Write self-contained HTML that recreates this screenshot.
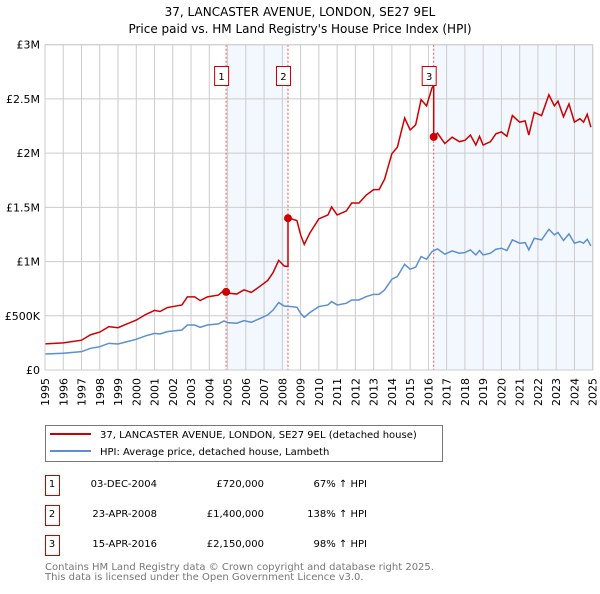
<!DOCTYPE html>
<html><head><meta charset="utf-8"><style>
body{margin:0;background:#fff;font-family:"DejaVu Sans","Liberation Sans",sans-serif;}
svg text{font-family:"DejaVu Sans","Liberation Sans",sans-serif;}
</style></head><body>
<svg id="c" width="600" height="590" viewBox="0 0 600 590" xmlns="http://www.w3.org/2000/svg">
<text x="300" y="16" text-anchor="middle" font-size="12">37, LANCASTER AVENUE, LONDON, SE27 9EL</text>
<text x="300" y="33" text-anchor="middle" font-size="12">Price paid vs. HM Land Registry's House Price Index (HPI)</text>
<g id="plot"></g>
<g>
<rect x="45.5" y="425.5" width="397" height="36" fill="#fff" stroke="#777"/>
<line x1="50" y1="434" x2="91" y2="434" stroke="#cc0000" stroke-width="2"/>
<text x="100" y="438" font-size="10">37, LANCASTER AVENUE, LONDON, SE27 9EL (detached house)</text>
<line x1="50" y1="451" x2="91" y2="451" stroke="#5b8fd0" stroke-width="2"/>
<text x="100" y="455" font-size="10">HPI: Average price, detached house, Lambeth</text>
</g>
<g id="table" font-size="10"></g>
<text x="45" y="570" font-size="10" fill="#777">Contains HM Land Registry data © Crown copyright and database right 2025.</text>
<text x="45" y="580" font-size="10" fill="#777">This data is licensed under the Open Government Licence v3.0.</text>
</svg>
<script>
const hpiDates=[1995.0,1996,1997,1997.5,1998,1998.5,1999,1999.5,2000,2000.5,2001,2001.3,2001.7,2002,2002.5,2002.8,2003.2,2003.5,2003.9,2004.5,2004.8,2005,2005.5,2005.9,2006.3,2006.8,2007.2,2007.5,2007.8,2008.1,2008.5,2008.8,2009.0,2009.2,2009.5,2010,2010.5,2010.7,2011,2011.5,2011.8,2012.2,2012.6,2013,2013.3,2013.6,2014,2014.3,2014.7,2015,2015.3,2015.6,2015.9,2016.2,2016.5,2016.9,2017.3,2017.7,2018,2018.3,2018.6,2018.8,2019,2019.4,2019.7,2020,2020.3,2020.6,2021,2021.3,2021.5,2021.8,2022.2,2022.6,2022.9,2023.1,2023.4,2023.7,2024,2024.3,2024.5,2024.7,2024.9];
const hpiValues=[148,154,169,200,215,246,240,262,283,314,338,332,354,360,369,415,415,394,415,425,452,437,431,455,440,477,508,554,622,590,585,578,523,486,529,585,600,631,600,615,646,646,677,698,698,738,837,862,975,929,948,1046,1022,1092,1117,1068,1098,1077,1083,1108,1061,1102,1061,1077,1114,1123,1102,1200,1169,1175,1108,1215,1200,1298,1246,1268,1194,1255,1169,1185,1169,1206,1145];
const saleLabels=["1","2","3"];
const saleDates=[2004.92,2008.31,2016.29];
const saleDateText=["03-DEC-2004","23-APR-2008","15-APR-2016"];
const salePrices=[720,1400,2150];
const salePriceText=["£720,000","£1,400,000","£2,150,000"];
const saleHpiText=["67% ↑ HPI","138% ↑ HPI","98% ↑ HPI"];
const yTicks=[0,500,1000,1500,2000,2500,3000];
const yTickLabels=["£0","£500K","£1M","£1.5M","£2M","£2.5M","£3M"];

const X0=45,X1=592.7,Y0=370,Y1=44.7;
const x=t=>X0+(t-1995)/30*(X1-X0);
const y=v=>Y0-v/3000*(Y0-Y1);
const NS="http://www.w3.org/2000/svg";
const plot=document.getElementById('plot');
function mk(tag,attrs,parent){const e=document.createElementNS(NS,tag);for(const k in attrs)e.setAttribute(k,attrs[k]);(parent||plot).appendChild(e);return e;}
function hpiAt(t){for(let i=1;i<hpiDates.length;i++){if(t<=hpiDates[i]){const a=hpiDates[i-1],b=hpiDates[i];return hpiValues[i-1]+(hpiValues[i]-hpiValues[i-1])*(t-a)/(b-a);}}return hpiValues[hpiValues.length-1];}

for(let i=0;i<saleDates.length;i+=2){const end=i+1<saleDates.length?saleDates[i+1]:2025;
const r=mk('rect',{x:x(saleDates[i]),y:Y1,width:x(end)-x(saleDates[i]),height:Y0-Y1,fill:'#eef3fd',opacity:0.7});
}
for(let yr=1995;yr<=2025;yr++){const l=mk('line',{x1:x(yr),x2:x(yr),y1:Y1,y2:Y0,stroke:'#ccc','stroke-width':1});

const t=mk('text',{x:0,y:0,'font-size':11,'text-anchor':'end',transform:`translate(${x(yr)+4},${Y0+8}) rotate(-90)`});t.textContent=yr;
}
yTicks.forEach((v,i)=>{const l=mk('line',{x1:X0,x2:X1,y1:y(v),y2:y(v),stroke:'#ccc','stroke-width':1});

const t=mk('text',{x:40,y:y(v)+4,'font-size':11,'text-anchor':'end'});t.textContent=yTickLabels[i];
});
saleDates.forEach((d,i)=>{const l=mk('line',{x1:x(d),x2:x(d),y1:Y1,y2:Y0,stroke:'#e55','stroke-width':1,'stroke-dasharray':'2,2'});
});
const hp=mk('polyline',{points:hpiDates.map((d,i)=>x(d)+','+y(hpiValues[i])).join(' '),fill:'none',stroke:'#5b8fd0','stroke-width':1.5});

const ratios=saleDates.map((d,i)=>salePrices[i]/hpiAt(d));
const pts=[];
function ratioAt(t){let r=ratios[0];saleDates.forEach((d,i)=>{if(t>=d)r=ratios[i];});return r;}
let si=0;
hpiDates.forEach(t=>{while(si<saleDates.length&&saleDates[si]<=t){const d=saleDates[si];const h=hpiAt(d);
 if(si>0)pts.push([d,h*ratios[si-1]]);pts.push([d,h*ratios[si]]);si++;}
 pts.push([t,hpiAt(t)*ratioAt(t)]);});
const rp=mk('polyline',{points:pts.map(p=>x(p[0])+','+y(p[1])).join(' '),fill:'none',stroke:'#cc0000','stroke-width':1.5});

saleDates.forEach((d,i)=>{const c=mk('circle',{cx:x(d),cy:y(salePrices[i]),r:4,fill:'#cc0000'});

const b=mk('rect',{x:x(d)-11.5,y:66.5,width:14,height:19,fill:'#fff',stroke:'#cc0000'});

const t=mk('text',{x:x(d)-4.5,y:80,'font-size':10,'text-anchor':'middle'});t.textContent=saleLabels[i];
});
mk('rect',{x:X0,y:Y1,width:X1-X0,height:Y0-Y1,fill:'none',stroke:'#ccc'});
const tb=document.getElementById('table');
saleDates.forEach((d,i)=>{const yy=483+i*30;
const b=mk('rect',{x:45.5,y:yy-7.5,width:14,height:20,fill:'#fff',stroke:'#cc0000'},tb);

const cols=[[52,saleLabels[i],'middle'],[157,saleDateText[i],'end'],[264,salePriceText[i],'end'],[367,saleHpiText[i],'end']];
cols.forEach(c=>{const t=mk('text',{x:c[0],y:yy+4,'text-anchor':c[2]},tb);t.textContent=c[1];
});});
</script>
</body></html>
